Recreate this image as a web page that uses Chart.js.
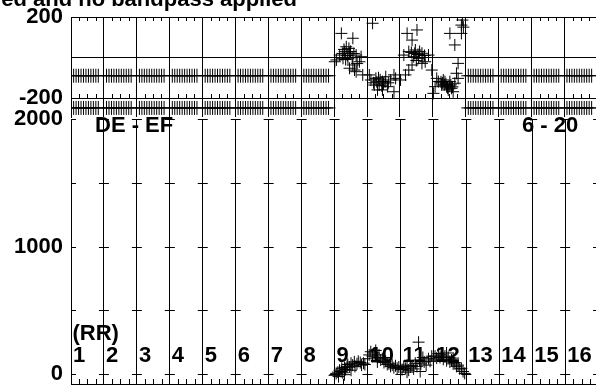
<!DOCTYPE html>
<html>
<head>
<meta charset="utf-8">
<script src="https://cdn.jsdelivr.net/npm/chart.js@4.4.0/dist/chart.umd.min.js"></script>
<style>
  html, body { margin: 0; padding: 0; background: #fff; overflow: hidden; }
  #wrap { position: relative; width: 596px; height: 391px; overflow: hidden; background: #fff; }
  canvas { position: absolute; left: 0; }
  #bottomCanvas { top: 100px; }
  #topCanvas { top: 0; }
</style>
</head>
<body>
<div id="wrap">
  <canvas id="bottomCanvas" width="671" height="291"></canvas>
  <canvas id="topCanvas" width="671" height="125"></canvas>
</div>
<script>
const FONT = '"Liberation Sans", Arial, Helvetica, sans-serif';

// text
const titleText = 'ed and no bandpass applied';
const regionLabels = ['1', '2', '3', '4', '5', '6', '7', '8', '9', '10', '11', '12', '13', '14', '15', '16'];
const regionNote = '(RR)';
const leftTag = 'DE - EF';
const rightTag = '6 - 20';

// axis ticks
const topTicks = [-200, 0, 200];
const bottomTicks = [0, 500, 1000, 1500, 2000];
const bottomLabelled = [0, 1000, 2000];

// flagged rows (regions without data)
const hashRegions = [1, 2, 3, 4, 5, 6, 7, 8, 13, 14, 15, 16];
const hashOffsets = [0.08, 0.155, 0.23, 0.305, 0.38, 0.455, 0.53, 0.605, 0.68, 0.755, 0.83];
const hashLevelA = -90;
const hashLevelB = -249;

// top panel scatter
const topX = [9.22, 9.57, 9.37, 9.32, 9.47, 9.17, 9.07, 9.02, 9.67, 9.82, 9.77, 9.57, 9.62, 9.47, 9.67, 9.42, 9.27, 9.87,
  10.17, 10.07, 10.12, 10.27, 10.37, 10.32, 10.47, 10.57, 10.62, 10.72, 10.82, 10.87, 10.47, 10.82, 10.22,
  11.02, 11.17, 11.12, 11.22, 11.52, 11.37, 11.27, 11.47, 11.67, 11.87, 11.77, 11.67, 11.37, 11.27, 11.97, 11.57, 11.42,
  12.17, 12.32, 12.27, 12.42, 12.47, 12.57, 12.67, 12.77, 12.72, 12.77, 12.52, 12.67, 12.87, 12.87, 12.02, 12.07, 12.12, 12.37, 12.52, 12.62,
  9.3, 9.4, 9.5, 9.25, 9.35, 9.55, 9.6, 9.7, 9.45,
  10.3, 10.4, 10.5, 10.55, 10.35, 10.65, 10.45, 10.2,
  11.45, 11.55, 11.6, 11.5, 11.7, 11.75, 11.35,
  12.3, 12.35, 12.4, 12.45, 12.5, 12.55, 12.25, 12.6, 12.9, 12.93];
const topY = [119, 95, 53, 29, 21, 12, -12, -21, 12, 4, -21, -37, -62, -53, -70, -4, -4, -86,
  169, -86, -111, -103, -136, -160, -119, -95, -144, -111, -86, -103, -160, -169, -136,
  -111, -86, 12, 119, 136, 86, 29, 37, 21, 12, -21, -29, -37, -62, -62, -4, 4,
  -119, -111, -136, -144, -160, -152, -127, -103, -78, -29, 119, 62, 160, 119, -177, -144, -103, -119, -119, -169,
  40, 10, 30, 20, -10, 0, 20, -30, 45,
  -120, -110, -130, -120, -100, -125, -140, -125,
  20, 15, 30, -15, 0, 10, 25,
  -125, -135, -130, -150, -140, -135, -120, -145, 185, 150];

// bottom panel scatter
const botX = [9.0, 9.05, 9.1, 9.12, 9.15, 9.2, 9.22, 9.25, 9.3, 9.33, 9.38, 9.4, 9.45, 9.5, 9.55, 9.6, 9.62, 9.68, 9.72, 9.78, 9.82, 9.88, 9.92, 9.3, 9.5,
  10.0, 10.05, 10.1, 10.15, 10.2, 10.25, 10.3, 10.35, 10.4, 10.45, 10.5, 10.55, 10.6, 10.65, 10.7, 10.75, 10.8, 10.85, 10.9, 10.95, 10.3, 10.5,
  11.0, 11.05, 11.1, 11.15, 11.2, 11.25, 11.3, 11.35, 11.4, 11.45, 11.5, 11.55, 11.58, 11.62, 11.68, 11.72, 11.78, 11.85, 11.9, 11.95, 11.2, 11.6,
  12.0, 12.05, 12.1, 12.15, 12.2, 12.25, 12.3, 12.35, 12.4, 12.45, 12.5, 12.55, 12.6, 12.65, 12.7, 12.75, 12.8, 12.85, 12.9, 12.95, 12.4, 12.6];
const botY = [-10, 5, 15, -20, 30, 20, 45, 10, 50, 35, 60, 75, 55, 85, 70, 95, 60, 80, 100, 90, 70, 85, 75, -5, 30,
  120, 150, 175, 140, 165, 185, 130, 150, 110, 120, 90, 100, 75, 80, 60, 70, 50, 65, 45, 55, 95, 130,
  50, 35, 60, 45, 70, 30, 55, 65, 40, 85, 60, 250, 110, 80, 130, 95, 70, 120, 100, 140, 15, 20,
  110, 140, 125, 160, 130, 150, 115, 140, 105, 130, 95, 110, 80, 90, 60, 70, 40, 45, 20, 5, 165, 125];

function hashRow(level) {
  const pts = [];
  hashRegions.forEach(r => hashOffsets.forEach(o => pts.push({ x: r + o, y: level })));
  return pts;
}

const boldFont = { family: FONT, size: 22, weight: 'bold' };

function marks(radius) {
  return {
    pointStyle: 'cross',
    pointRadius: radius,
    pointBorderWidth: 1,
    borderColor: '#000',
    pointBorderColor: '#000',
    backgroundColor: '#000'
  };
}

function xScale(showBorder) {
  return {
    type: 'linear', min: 1, max: 19,
    afterBuildTicks: s => { s.ticks = []; for (let n = 1; n <= 19; n++) s.ticks.push({ value: n }); },
    ticks: { display: false },
    grid: { color: '#000', drawTicks: false, lineWidth: 1 },
    border: { display: showBorder, color: '#000' },
    afterFit: s => { s.height = 0; s.paddingLeft = 0; s.paddingRight = 0; }
  };
}

function minorTicks(ctx, x, yPos, len) {
  for (let v = 1.25; v < 19; v += 0.25) {
    if (Number.isInteger(v)) continue;
    const px = Math.round(x.getPixelForValue(v)) + 0.5;
    ctx.moveTo(px, yPos);
    ctx.lineTo(px, yPos + len);
  }
}

const topFrame = {
  id: 'topFrame',
  afterDraw(chart) {
    const { ctx, chartArea: a, scales: { x, y } } = chart;
    ctx.save();
    ctx.strokeStyle = '#000';
    ctx.lineWidth = 1;
    ctx.beginPath();
    minorTicks(ctx, x, a.top, 4);
    minorTicks(ctx, x, Math.round(y.getPixelForValue(-200)), -4);
    ctx.stroke();
    ctx.fillStyle = '#000';
    ctx.font = 'bold 22px ' + FONT;
    ctx.textAlign = 'right';
    ctx.textBaseline = 'alphabetic';
    ctx.fillText(titleText, 297, 6);
    ctx.restore();
  }
};

const bottomFrame = {
  id: 'bottomFrame',
  beforeDatasetsDraw(chart) {
    const { ctx, chartArea: a, scales: { x, y } } = chart;
    ctx.save();
    ctx.strokeStyle = '#000';
    ctx.lineWidth = 1;
    ctx.beginPath();
    for (let n = 1; n <= 18; n++) {
      const px = x.getPixelForValue(n);
      bottomTicks.forEach(v => {
        const py = Math.round(y.getPixelForValue(v)) + 0.5;
        ctx.moveTo(Math.max(a.left, px - 5), py);
        ctx.lineTo(px + 5, py);
      });
    }
    minorTicks(ctx, x, a.bottom, -5);
    ctx.stroke();

    ctx.fillStyle = '#000';
    ctx.font = 'bold 22px ' + FONT;
    ctx.textAlign = 'left';
    ctx.textBaseline = 'alphabetic';
    regionLabels.forEach((t, i) => ctx.fillText(t, x.getPixelForValue(i + 1) + 2, a.bottom - 22));
    ctx.fillText(regionNote, x.getPixelForValue(1) + 1.5, a.bottom - 44);
    ctx.fillText(leftTag, 95, a.top + 13);
    ctx.fillText(rightTag, 522, a.top + 13);
    ctx.restore();
  }
};

Chart.defaults.font.family = FONT;

// top panel: -200 .. 200 (area runs a little below -200, as in the original)
new Chart(document.getElementById('topCanvas'), {
  type: 'scatter',
  data: {
    datasets: [
      { data: hashRow(hashLevelA), ...marks(7) },
      { data: hashRow(hashLevelB), ...marks(7) },
      { data: topX.map((x, i) => ({ x, y: topY[i] })), ...marks(6) }
    ]
  },
  options: {
    responsive: false,
    animation: false,
    events: [],
    layout: { padding: { top: 17, bottom: 8, left: 0, right: 0 } },
    plugins: { legend: { display: false }, tooltip: { enabled: false } },
    scales: {
      x: xScale(false),
      y: {
        min: -293.8, max: 200,
        afterBuildTicks: s => { s.ticks = topTicks.map(v => ({ value: v })); },
        ticks: { color: '#000', font: boldFont, padding: 8, callback: v => (v === 0 ? '' : String(v)) },
        grid: { color: '#000', drawTicks: false },
        border: { color: '#000' },
        afterFit: s => { s.width = 71; s.paddingTop = 0; s.paddingBottom = 0; }
      }
    }
  },
  plugins: [topFrame]
});

// bottom panel: 0 .. 2000
new Chart(document.getElementById('bottomCanvas'), {
  type: 'scatter',
  data: {
    datasets: [
      { data: botX.map((x, i) => ({ x, y: botY[i] })), ...marks(6) }
    ]
  },
  options: {
    responsive: false,
    animation: false,
    events: [],
    layout: { padding: { top: 19, bottom: 6, left: 0, right: 0 } },
    plugins: { legend: { display: false }, tooltip: { enabled: false } },
    scales: {
      x: xScale(true),
      y: {
        min: -78.125, max: 2000,
        afterBuildTicks: s => { s.ticks = bottomTicks.map(v => ({ value: v })); },
        ticks: { color: '#000', font: boldFont, padding: 8, autoSkip: false,
          callback: v => (bottomLabelled.includes(v) ? String(v) : '') },
        grid: { drawOnChartArea: false, drawTicks: false },
        border: { color: '#000' },
        afterFit: s => { s.width = 71; s.paddingTop = 0; s.paddingBottom = 0; }
      }
    }
  },
  plugins: [bottomFrame]
});
</script>
</body>
</html>
